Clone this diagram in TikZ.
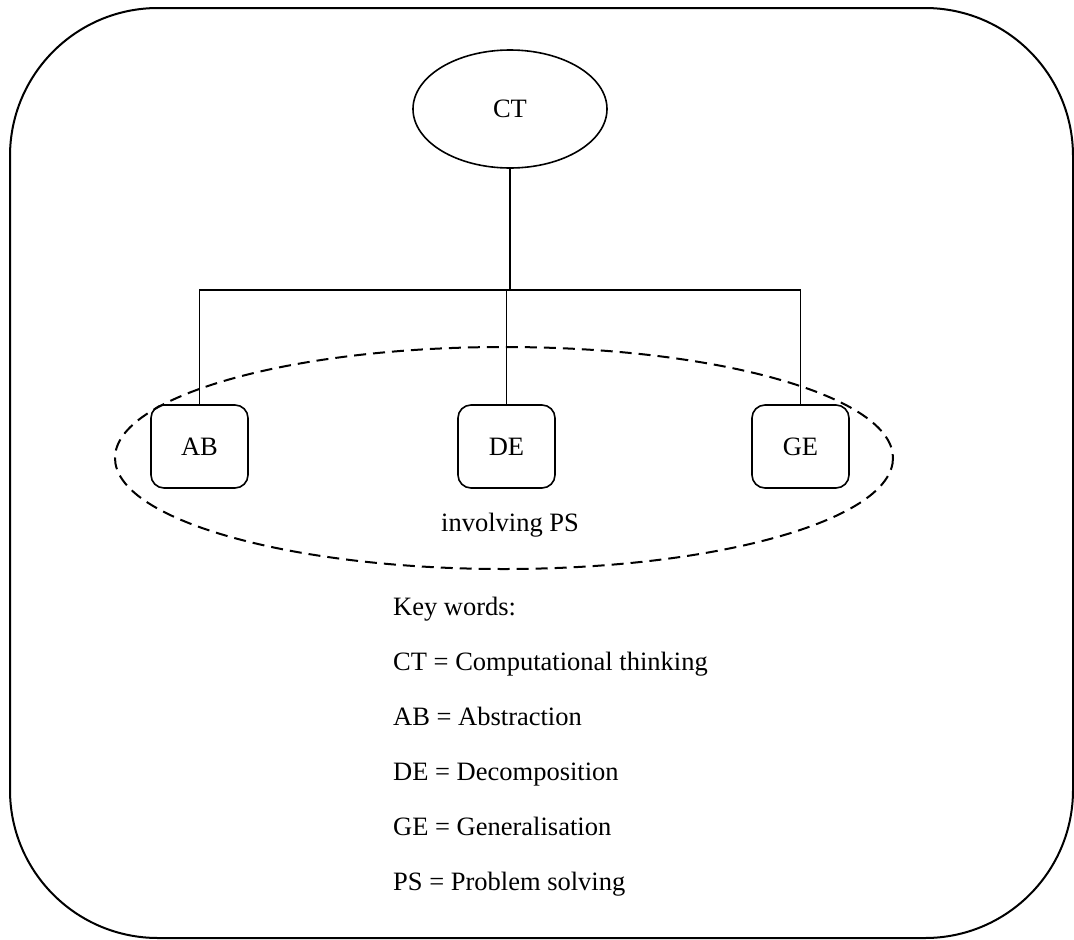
\documentclass[tikz,border=0pt]{standalone}
\usepackage{fontspec}
\setmainfont{Liberation Serif}
\usetikzlibrary{shapes.geometric}
\begin{document}
\begin{tikzpicture}[x=1pt,y=-1pt,
  lbl/.style={font=\fontsize{26.5}{30}\selectfont, inner sep=0pt},
  concept/.style={ellipse, draw, line width=1.6pt, minimum width=194pt, minimum height=118pt, inner sep=0pt, lbl},
  skill/.style={draw, line width=1.6pt, rounded corners=13pt, minimum width=97pt, minimum height=83pt, inner sep=0pt, lbl},
  link/.style={line width=1.6pt},
  keyline/.style={lbl, anchor=base west}]
\useasboundingbox (0,0) rectangle (1074,940);
% outer frame
\draw[line width=2pt, rounded corners=148pt] (10,8) rectangle (1073,938);
% involving PS region
\draw[line width=2pt, dash pattern=on 12pt off 7pt] (504,458) ellipse [x radius=389, y radius=111];
% concept and its three parts
\node[concept] (ct) at (510,109) {CT};
\node[skill] (ab) at (199.5,446.5) {AB};
\node[skill] (de) at (506.5,446.5) {DE};
\node[skill] (ge) at (800.5,446.5) {GE};
\coordinate (bar) at (510,290);
\draw[link] (ct.south) -- (bar);
\draw[link] (ab.north) |- (bar) -| (ge.north);
\draw[link] (de.north) -- (de.north |- bar);
\node[lbl, anchor=base] (ps) at (510,531) {involving PS};
% key
\node[keyline] (k0) at (393,615) {Key words:};
\node[keyline] (k1) at (393,670) {CT = Computational thinking};
\node[keyline] (k2) at (393,725) {AB = Abstraction};
\node[keyline] (k3) at (393,780) {DE = Decomposition};
\node[keyline] (k4) at (393,835) {GE = Generalisation};
\node[keyline] (k5) at (393,890) {PS = Problem solving};
\end{tikzpicture}
\end{document}
